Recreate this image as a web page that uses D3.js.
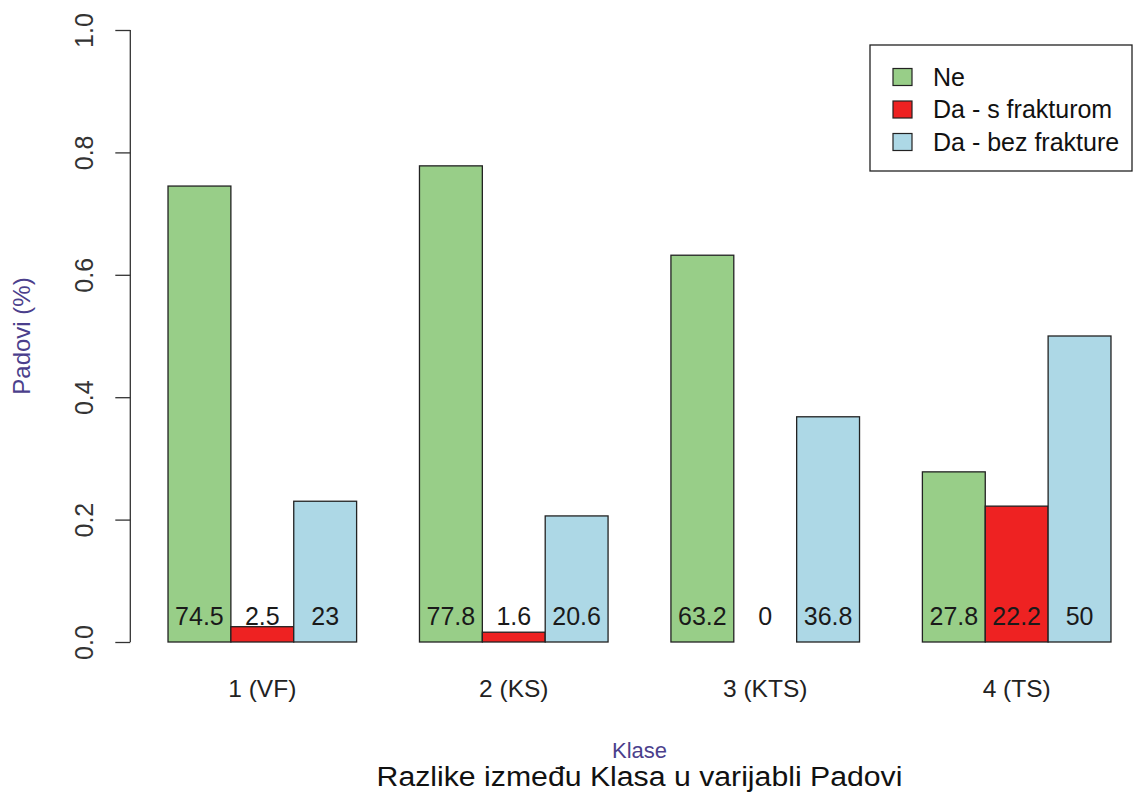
<!DOCTYPE html>
<html>
<head>
<meta charset="utf-8">
<script src="https://cdn.jsdelivr.net/npm/d3@7"></script>
<style>
  html, body { margin: 0; padding: 0; background: #fff; }
  svg { display: block; font-family: "Liberation Sans", Arial, sans-serif; }
</style>
</head>
<body>
<script>
const categories = ["1 (VF)", "2 (KS)", "3 (KTS)", "4 (TS)"];
const seriesNames = ["Ne", "Da - s frakturom", "Da - bez frakture"];
const seriesColors = ["#98CE88", "#EE2222", "#ADD8E6"];
const ne = [0.745, 0.778, 0.632, 0.278];
const daS = [0.025, 0.016, 0.0, 0.222];
const daBez = [0.230, 0.206, 0.368, 0.500];
const labelsNe = ["74.5", "77.8", "63.2", "27.8"];
const labelsDaS = ["2.5", "1.6", "0", "22.2"];
const labelsDaBez = ["23", "20.6", "36.8", "50"];
const yTicks = [0, 0.2, 0.4, 0.6, 0.8, 1.0];

const series = [ne, daS, daBez];
const seriesLabels = [labelsNe, labelsDaS, labelsDaBez];

const W = 1134, H = 803;
const svg = d3.select("body").append("svg").attr("width", W).attr("height", H);

// R barplot style unit axis: bars occupy [1+4g+s, 2+4g+s]
const x = d3.scaleLinear().domain([0.4, 16.6]).range([130.3, 1148.7]);
const y = d3.scaleLinear().domain([0, 1]).range([642, 30]);
const cx = (x(0.4) + x(16.6)) / 2;

const data = [];
categories.forEach((c, g) => {
  series.forEach((vals, s) => {
    data.push({ g, s, v: vals[g], lab: seriesLabels[s][g] });
  });
});

svg.append("g").selectAll("rect").data(data).enter().append("rect")
  .attr("x", d => x(1 + 4 * d.g + d.s))
  .attr("width", d => x(2 + 4 * d.g + d.s) - x(1 + 4 * d.g + d.s))
  .attr("y", d => y(d.v))
  .attr("height", d => y(0) - y(d.v))
  .attr("fill", d => seriesColors[d.s])
  .attr("stroke", "#222")
  .attr("stroke-width", 1.3);

// value labels
svg.append("g").selectAll("text").data(data).enter().append("text")
  .attr("x", d => x(1.5 + 4 * d.g + d.s))
  .attr("y", y(0.028))
  .attr("text-anchor", "middle")
  .attr("font-size", 25)
  .attr("fill", "#1a1a1a")
  .text(d => d.lab);

// y axis
const yAxis = d3.axisLeft(y).tickValues(yTicks).tickSize(15).tickFormat(d3.format(".1f"));
const ya = svg.append("g").attr("transform", `translate(${x(0.4)},0)`).call(yAxis);
ya.select(".domain").attr("stroke", "#333").attr("stroke-width", 1.3).attr("d", `M-0,${y(0)}V${y(1)}`);
ya.selectAll(".tick line").attr("stroke", "#333").attr("stroke-width", 1.3);
ya.selectAll(".tick text")
  .attr("font-size", 25)
  .attr("fill", "#333")
  .attr("font-family", "Liberation Sans, Arial, sans-serif")
  .attr("text-anchor", "middle")
  .attr("dy", null)
  .attr("x", null)
  .attr("transform", "translate(-46,0) rotate(-90)")
  .attr("dominant-baseline", "central");

// x category labels
svg.append("g").selectAll("text").data(categories).enter().append("text")
  .attr("x", (d, g) => x(2.5 + 4 * g))
  .attr("y", 697)
  .attr("text-anchor", "middle")
  .attr("font-size", 24.5)
  .attr("fill", "#222")
  .text(d => d);

// axis titles
svg.append("text")
  .attr("transform", `translate(30,${y(0.5)}) rotate(-90)`)
  .attr("text-anchor", "middle")
  .attr("font-size", 24)
  .attr("fill", "#4B3F8C")
  .text("Padovi (%)");

svg.append("text")
  .attr("x", cx)
  .attr("y", 758)
  .attr("text-anchor", "middle")
  .attr("font-size", 22)
  .attr("fill", "#4B3F8C")
  .text("Klase");

svg.append("text")
  .attr("transform", `translate(${cx},786) scale(1.12,1)`)
  .attr("text-anchor", "middle")
  .attr("font-size", 27)
  .attr("fill", "#111")
  .text("Razlike između Klasa u varijabli Padovi");

// legend
const lg = svg.append("g");
lg.append("rect").attr("x", 870).attr("y", 45).attr("width", 262).attr("height", 126)
  .attr("fill", "#fff").attr("stroke", "#222").attr("stroke-width", 1.3);
seriesNames.forEach((n, i) => {
  const cy = 77 + i * 32.5;
  lg.append("rect").attr("x", 893).attr("y", cy - 8.5).attr("width", 19).attr("height", 17)
    .attr("fill", seriesColors[i]).attr("stroke", "#222").attr("stroke-width", 1.2);
  lg.append("text").attr("x", 933).attr("y", cy + 8.5)
    .attr("font-size", 25).attr("fill", "#111").text(n);
});
</script>
</body>
</html>
